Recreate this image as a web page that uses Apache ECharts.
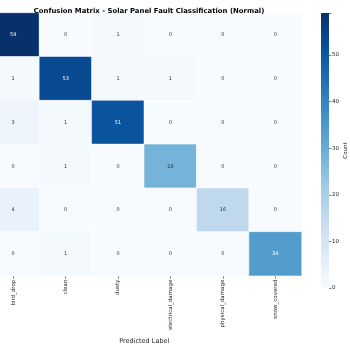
<!DOCTYPE html>
<html><head><meta charset="utf-8">
<script src="https://cdn.jsdelivr.net/npm/echarts@6/dist/echarts.min.js"></script>
<style>html,body{margin:0;padding:0;background:#fff;overflow:hidden}#c{width:363px;height:350px;margin-left:-13px}</style>
</head><body><div id="c"></div>
<script>
const categories = ['bird_drop','clean','dusty','electrical_damage','physical_damage','snow_covered'];
const matrix = [
  [59, 0, 1, 0, 0, 0],
  [1, 53, 1, 1, 0, 0],
  [3, 1, 51, 0, 0, 0],
  [0, 1, 0, 28, 0, 0],
  [4, 0, 0, 0, 16, 0],
  [0, 1, 0, 0, 0, 34]
];
const colorbarTicks = [0, 10, 20, 30, 40, 50];
const vmax = 59;
const blues = ['#f7fbff','#deebf7','#c6dbef','#9ecae1','#6baed6','#4292c6','#2171b5','#08519c','#08306b'];

const cells = [];
matrix.forEach((row, i) => row.forEach((v, j) => cells.push([j, i, v])));

const font = 'DejaVu Sans';
const chart = echarts.init(document.getElementById('c'));
chart.setOption({
  animation: false,
  textStyle: { fontFamily: font },
  title: {
    text: 'Confusion Matrix - Solar Panel Fault Classification (Normal)',
    left: 157, top: 3, textAlign: 'center',
    textStyle: { fontFamily: font, fontWeight: 'bold', fontSize: 6.9, color: '#000' }
  },
  grid: [
    { left: 0, right: 48.5, top: 13, bottom: 62 },
    { left: 334, width: 13, top: 13, bottom: 62 }
  ],
  xAxis: [
    { type: 'category', gridIndex: 0, data: categories,
      axisLine: { show: false }, splitLine: { show: false },
      axisTick: { show: true, alignWithLabel: true, length: 3, lineStyle: { color: '#333', width: 0.6 } },
      axisLabel: { rotate: 90, fontSize: 5.5, color: '#222', margin: 4, interval: 0 },
      name: 'Predicted Label', nameLocation: 'middle', nameGap: 53,
      nameTextStyle: { fontSize: 6.5, color: '#222' } },
    { type: 'category', gridIndex: 1, data: ['Count'], show: false }
  ],
  yAxis: [
    { type: 'category', gridIndex: 0, data: categories, inverse: true,
      axisLine: { show: false }, axisTick: { show: false }, axisLabel: { show: false }, splitLine: { show: false } },
    { type: 'value', gridIndex: 1, min: 0, max: vmax, interval: 10, position: 'right',
      axisLine: { show: false }, splitLine: { show: false },
      axisTick: { show: true, length: 2.5, lineStyle: { color: '#333', width: 0.6 } },
      axisLabel: { fontSize: 5.5, color: '#222', margin: 3,
        formatter: v => colorbarTicks.includes(v) ? String(v) : '' },
      name: 'Count', nameLocation: 'middle', nameGap: 14,
      nameTextStyle: { fontSize: 5.5, color: '#222' } }
  ],
  visualMap: {
    show: false, type: 'continuous', min: 0, max: vmax, seriesIndex: 0, dimension: 2,
    inRange: { color: blues }
  },
  series: [
    { type: 'heatmap', xAxisIndex: 0, yAxisIndex: 0,
      data: cells.map(c => ({ value: c, label: { color: c[2] > 30 ? '#fff' : '#333' } })),
      itemStyle: { borderColor: '#fff', borderWidth: 0.5 },
      label: { show: true, fontSize: 5, fontFamily: font, formatter: p => String(p.value[2]) }
    },
    { type: 'bar', xAxisIndex: 1, yAxisIndex: 1, data: [vmax], barWidth: '100%',
      itemStyle: { color: new echarts.graphic.LinearGradient(0, 0, 0, 1,
        blues.slice().reverse().map((c, k) => ({ offset: k / (blues.length - 1), color: c }))) } }
  ]
});
</script></body></html>
